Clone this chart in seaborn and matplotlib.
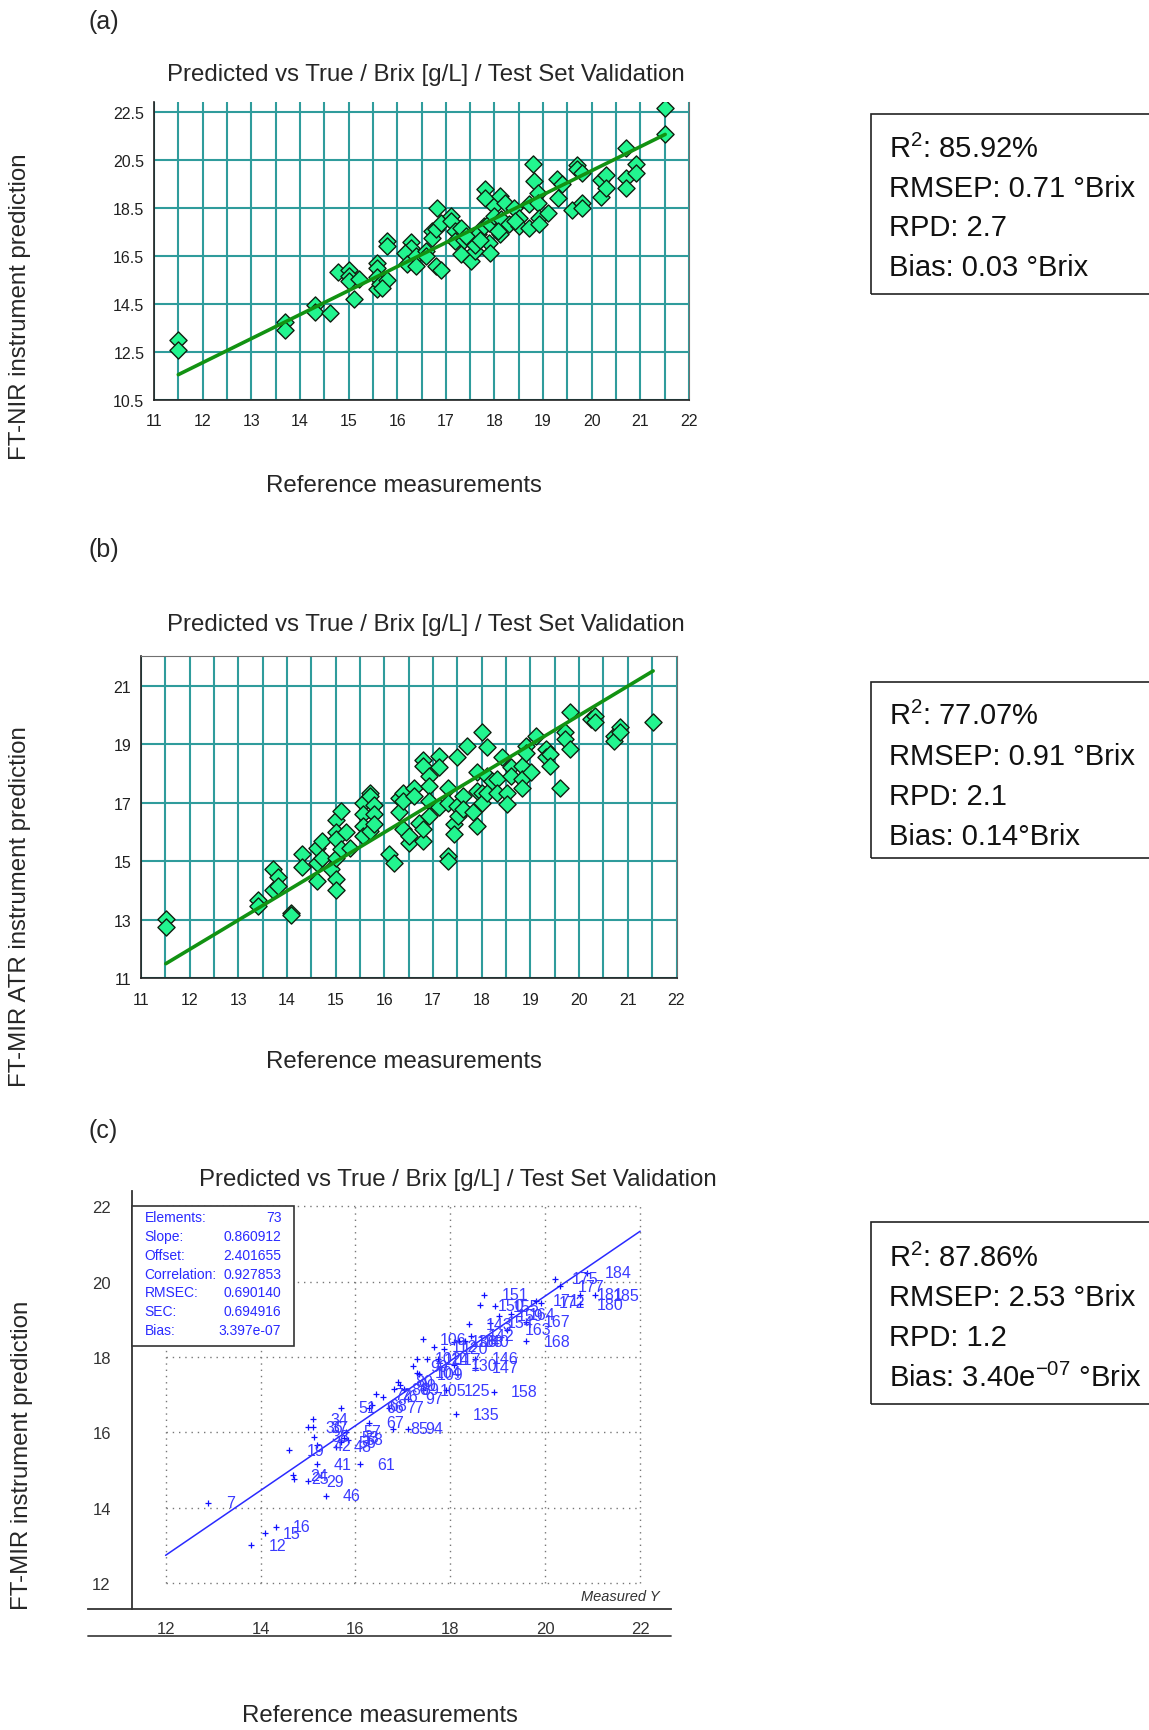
import matplotlib
matplotlib.use('Agg')
import matplotlib.pyplot as plt
import seaborn as sns
import numpy as np
from matplotlib.patches import Rectangle
from matplotlib.ticker import MultipleLocator, FixedLocator

# ---------------- data ----------------
title = 'Predicted vs True / Brix [g/L] / Test Set Validation'

# (a) FT-NIR, reference vs predicted
nir_ref = [11.5, 11.5, 13.7, 13.7, 14.3, 14.3, 14.62, 14.79, 15.01, 15.01,
           15.01, 15.21, 15.11, 15.59, 15.59, 15.59, 15.59, 15.65, 15.8, 15.8,
           15.8, 15.68, 16.29, 16.29, 16.16, 16.2, 16.38, 16.38, 16.6, 16.6,
           16.71, 16.71, 16.79, 16.81, 16.9, 16.79, 16.9, 17.1, 17.1, 17.19,
           17.19, 17.31, 17.31, 17.37, 17.5, 17.52, 17.59, 17.59, 17.67, 17.78,
           17.8, 17.8, 17.89, 17.91, 17.89, 18.0, 18.0, 18.11, 18.11, 18.14,
           18.22, 18.29, 18.4, 18.51, 18.51, 18.72, 18.72, 18.8, 18.82, 18.9,
           18.9, 18.91, 18.91, 19.1, 19.28, 19.3, 19.39, 19.6, 19.69, 19.69,
           19.8, 19.81, 19.81, 20.2, 20.2, 20.3, 20.3, 20.7, 20.7, 20.7,
           20.92, 20.92, 21.51, 21.51, 17.41, 17.7, 18.42, 18.07]
nir_pred = [12.97, 12.56, 13.72, 13.38, 14.46, 14.16, 14.11, 15.81, 15.88, 15.67,
            15.43, 15.53, 14.70, 16.20, 15.99, 15.60, 15.09, 15.30, 15.48, 17.10,
            16.89, 15.16, 17.07, 16.80, 16.59, 16.13, 16.48, 16.06, 16.69, 16.48,
            17.52, 17.24, 17.59, 18.47, 17.87, 16.06, 15.92, 18.17, 17.94, 17.52,
            17.10, 17.66, 16.58, 17.17, 17.17, 16.27, 16.69, 16.96, 17.38, 17.73,
            19.26, 18.91, 17.03, 16.59, 17.87, 18.56, 18.15, 18.98, 17.38, 18.01,
            18.70, 17.80, 18.49, 18.08, 17.73, 18.63, 17.66, 20.33, 19.61, 19.12,
            18.70, 18.08, 17.80, 18.29, 19.68, 18.91, 19.47, 18.42, 20.27, 20.09,
            19.95, 18.70, 18.49, 19.64, 18.94, 19.84, 19.33, 21.00, 19.75, 19.33,
            20.30, 19.95, 22.64, 21.58, 17.31, 17.17, 17.94, 17.52]
nir_fit = (1.0, 0.04)  # slope, offset

# (b) FT-MIR ATR
atr_ref = [11.51, 11.51, 13.41, 13.41, 13.71, 13.71, 13.81, 13.81, 14.08, 14.08,
           14.31, 14.31, 14.61, 14.61, 14.61, 14.71, 14.71, 14.91, 15.01, 15.01,
           15.01, 15.01, 15.01, 15.01, 15.10, 15.10, 15.21, 15.30, 15.57, 15.57,
           15.57, 15.57, 15.70, 15.70, 15.70, 15.79, 15.79, 15.79, 16.10, 16.20,
           16.29, 16.29, 16.39, 16.39, 16.39, 16.50, 16.50, 16.61, 16.61, 16.71,
           16.80, 16.80, 16.80, 16.80, 16.91, 16.91, 16.91, 16.91, 17.12, 17.12,
           17.12, 17.31, 17.31, 17.31, 17.31, 17.42, 17.42, 17.49, 17.49, 17.51,
           17.61, 17.61, 17.70, 17.81, 17.91, 17.91, 17.91, 18.00, 18.00, 18.01,
           18.11, 18.11, 18.11, 18.22, 18.31, 18.31, 18.41, 18.52, 18.52, 18.61,
           18.61, 18.82, 18.82, 18.82, 18.91, 18.91, 19.02, 19.12, 19.31, 19.31,
           19.41, 19.41, 19.61, 19.71, 19.71, 19.81, 19.81, 20.24, 20.32, 20.32,
           20.71, 20.71, 20.83, 20.83, 21.52]
atr_pred = [13.02, 12.75, 13.66, 13.46, 14.71, 14.00, 14.46, 14.14, 13.23, 13.14,
            15.25, 14.79, 15.46, 14.92, 14.31, 15.69, 15.11, 14.71, 16.39, 15.99,
            15.74, 15.11, 14.37, 14.01, 16.71, 15.40, 15.99, 15.46, 16.98, 16.60,
            16.20, 15.86, 17.32, 17.23, 16.03, 16.92, 16.60, 16.26, 15.23, 14.92,
            17.17, 16.66, 17.32, 17.06, 16.09, 15.63, 15.86, 17.48, 17.23, 16.31,
            18.46, 18.26, 15.69, 16.09, 17.91, 17.57, 17.06, 16.54, 18.60, 18.20,
            16.83, 17.51, 17.00, 15.17, 15.00, 16.26, 15.91, 18.54, 16.89, 16.54,
            17.23, 16.77, 18.94, 16.66, 18.03, 17.40, 16.20, 19.40, 17.34, 17.00,
            18.89, 17.91, 17.34, 17.74, 17.80, 17.34, 18.54, 17.34, 16.94, 18.20,
            17.91, 18.26, 17.80, 17.51, 18.94, 18.71, 18.03, 19.29, 18.83, 18.54,
            18.66, 18.26, 17.51, 19.40, 19.17, 20.09, 18.83, 19.86, 19.97, 19.74,
            19.29, 19.11, 19.57, 19.40, 19.74]
atr_fit = (1.0, -0.02)

# (c) FT-MIR, sample ids / measured / predicted
mir_id = [7, 12, 15, 16, 19, 24, 25, 29, 34, 36,
          37, 38, 41, 42, 46, 48, 51, 53, 56, 57,
          58, 61, 66, 67, 68, 72, 76, 77, 80, 85,
          86, 89, 90, 94, 97, 99, 102, 104, 105, 106,
          109, 112, 114, 117, 120, 125, 130, 135, 136, 138,
          140, 142, 143, 146, 147, 150, 151, 154, 155, 158,
          159, 163, 164, 167, 168, 171, 172, 175, 177, 180,
          181, 184, 185]
mir_ref = [12.90, 13.81, 14.10, 14.32, 14.61, 14.68, 14.70, 15.01, 15.10, 15.01,
           15.11, 15.13, 15.18, 15.18, 15.37, 15.59, 15.69, 15.75, 15.69, 15.81,
           15.84, 16.09, 16.29, 16.29, 16.34, 16.44, 16.58, 16.70, 16.90, 16.80,
           16.82, 17.02, 16.95, 17.10, 17.10, 17.21, 17.30, 17.30, 17.42, 17.42,
           17.34, 17.66, 17.50, 17.75, 17.87, 17.91, 18.07, 18.11, 18.07, 18.19,
           18.31, 18.43, 18.39, 18.51, 18.51, 18.63, 18.71, 18.83, 18.95, 18.91,
           19.03, 19.20, 19.28, 19.60, 19.60, 19.80, 19.92, 20.20, 20.32, 20.73,
           20.73, 20.89, 21.05]
mir_pred = [14.13, 13.00, 13.32, 13.49, 15.52, 14.86, 14.77, 14.70, 16.35, 16.14,
            16.14, 15.88, 15.15, 15.66, 14.31, 15.62, 16.65, 15.86, 15.73, 16.01,
            15.80, 15.15, 16.65, 16.26, 16.72, 17.01, 16.95, 16.65, 17.34, 16.10,
            17.14, 17.14, 17.25, 16.10, 16.89, 17.76, 17.96, 17.58, 17.12, 18.47,
            17.54, 18.27, 17.94, 17.94, 18.22, 17.12, 17.78, 16.48, 18.40, 18.42,
            18.42, 18.56, 18.87, 17.96, 17.72, 19.37, 19.66, 18.91, 19.35, 17.08,
            19.09, 18.73, 19.13, 18.94, 18.42, 19.49, 19.44, 20.08, 19.88, 19.40,
            19.66, 20.24, 19.64]
mir_slope = 0.860912
mir_offset = 2.401655
mir_stat_names = ['Elements:', 'Slope:', 'Offset:', 'Correlation:', 'RMSEC:', 'SEC:', 'Bias:']
mir_stat_values = ['73', '0.860912', '2.401655', '0.927853', '0.690140', '0.694916', '3.397e-07']

stats_a = ['R$^2$: 85.92%', 'RMSEP: 0.71 °Brix', 'RPD: 2.7', 'Bias: 0.03 °Brix']
stats_b = ['R$^2$: 77.07%', 'RMSEP: 0.91 °Brix', 'RPD: 2.1', 'Bias: 0.14°Brix']
stats_c = ['R$^2$: 87.86%', 'RMSEP: 2.53 °Brix', 'RPD: 1.2', 'Bias: 3.40e$^{-07}$ °Brix']

# ---------------- style ----------------
sns.set_style('white')
plt.rcParams['font.family'] = ['Liberation Sans', 'DejaVu Sans']
plt.rcParams['mathtext.fontset'] = 'custom'
plt.rcParams['mathtext.rm'] = 'Liberation Sans'
plt.rcParams['mathtext.it'] = 'Liberation Sans:italic'
NARROW = ['Liberation Sans Narrow', 'Liberation Sans', 'DejaVu Sans']
TEAL = '#2f9c9c'
GREEN = '#22f58f'
DKGREEN = '#129212'
BLUE = '#2a2aff'
BIG = 17.3

W, H = 1149, 1731
fig = plt.figure(figsize=(W / 100, H / 100), dpi=100)


def fx(px):
    return px / W


def fy(py):
    return 1 - py / H


def add_ax(left, top, right, bottom):
    return fig.add_axes([fx(left), fy(bottom), (right - left) / W, (bottom - top) / H])


def green_panel(ax, ref, pred, fit, ylim, yticks, top_spine):
    ax.set_xlim(11, 22)
    ax.set_ylim(*ylim)
    ax.xaxis.set_major_locator(MultipleLocator(1))
    ax.xaxis.set_minor_locator(MultipleLocator(0.5))
    ax.set_yticks(yticks)
    ax.grid(True, which='both', axis='x', color=TEAL, lw=1.5)
    ax.grid(True, which='major', axis='y', color=TEAL, lw=1.5)
    ax.set_axisbelow(True)
    sns.scatterplot(x=ref, y=pred, ax=ax, marker='D', s=76, color=GREEN,
                    edgecolor='#102010', linewidth=1.0, zorder=3)
    xs = np.array([min(ref), max(ref)])
    sns.lineplot(x=xs, y=fit[1] + fit[0] * xs, ax=ax, color=DKGREEN, lw=2.6, zorder=4)
    for s in ['left', 'bottom']:
        ax.spines[s].set_color('#202020')
        ax.spines[s].set_linewidth(1.2)
    ax.spines['right'].set_color('#707070')
    ax.spines['top'].set_visible(top_spine)
    ax.spines['top'].set_color('#707070')
    ax.tick_params(axis='both', which='both', direction='out', length=4, width=1,
                   colors='#202020', labelsize=11.5, pad=3, labelfontfamily=NARROW)
    ax.tick_params(axis='x', which='major', pad=6)
    ax.tick_params(axis='x', which='minor', length=3)
    ax.set_xlabel('')
    ax.set_ylabel('')


def stats_box(top, bottom, lines, line_y):
    fig.add_artist(Rectangle((fx(871), fy(bottom)), (1160 - 871) / W, (bottom - top) / H,
                             transform=fig.transFigure, fill=False, edgecolor='#222222', lw=1.2))
    for s, yy in zip(lines, line_y):
        fig.text(fx(889), fy(yy), s, fontsize=21, ha='left', va='center', color='#111111')


# ---------------- panel (a) ----------------
ax_a = add_ax(154, 103, 689, 400.6)
green_panel(ax_a, nir_ref, nir_pred, nir_fit, (10.5, 22.9), np.arange(10.5, 23, 2), False)
fig.text(fx(88), fy(22), '(a)', fontsize=18, ha='left', va='center')
fig.text(fx(426), fy(75), title, fontsize=BIG, ha='center', va='center')
fig.text(fx(404), fy(486), 'Reference measurements', fontsize=BIG, ha='center', va='center')
fig.text(fx(20), fy(307), 'FT-NIR instrument prediction', fontsize=BIG, rotation=90,
         ha='center', va='center')
stats_box(115, 295, stats_a, [149, 189, 228.5, 268])

# ---------------- panel (b) ----------------
ax_b = add_ax(141, 657.3, 676.5, 979)
green_panel(ax_b, atr_ref, atr_pred, atr_fit, (11, 22), np.arange(11, 22, 2), True)
fig.text(fx(88), fy(550), '(b)', fontsize=18, ha='left', va='center')
fig.text(fx(426), fy(625), title, fontsize=BIG, ha='center', va='center')
fig.text(fx(404), fy(1062), 'Reference measurements', fontsize=BIG, ha='center', va='center')
fig.text(fx(20), fy(907), 'FT-MIR ATR instrument prediction', fontsize=BIG, rotation=90,
         ha='center', va='center')
stats_box(683, 859, stats_b, [716, 757, 797, 837])

# ---------------- panel (c) ----------------
ax_c = add_ax(88, 1192, 671, 1609.5)
ax_c.set_xlim(10.365, 22.65)
ax_c.set_ylim(11.32, 22.41)
grid_ticks = np.arange(12, 23, 2)
minor_ticks = np.arange(12, 22.01, 0.5)
ax_c.set_xticks(grid_ticks)
ax_c.set_yticks(grid_ticks)
ax_c.xaxis.set_minor_locator(FixedLocator(minor_ticks))
ax_c.yaxis.set_minor_locator(FixedLocator(minor_ticks))
ax_c.spines['left'].set_position(('data', 11.3))
ax_c.spines[['top', 'right']].set_visible(False)
for s in ['left', 'bottom']:
    ax_c.spines[s].set_color('#333333')
    ax_c.spines[s].set_linewidth(1.3)
ax_c.tick_params(axis='y', which='major', direction='out', length=12.5, width=1.1,
                 colors='#333333', labelsize=12, pad=3, labelfontfamily=NARROW)
ax_c.tick_params(axis='y', which='minor', direction='out', length=4, width=1, colors='#333333')
ax_c.tick_params(axis='x', which='major', direction='out', length=7, width=1.1,
                 colors='#333333', labelsize=12, pad=2, labelfontfamily=NARROW)
ax_c.tick_params(axis='x', which='minor', direction='out', length=3.5, width=1, colors='#333333')
ax_c.vlines(grid_ticks, 12, 22, colors='#777777', linestyles=(0, (1, 3.5)), lw=1, zorder=1)
ax_c.hlines(grid_ticks, 12, 22, colors='#777777', linestyles=(0, (1, 3.5)), lw=1, zorder=1)

line_x = np.array([grid_ticks[0], grid_ticks[-1]])
sns.lineplot(x=line_x, y=mir_offset + mir_slope * line_x, ax=ax_c, color='#2a2aff', lw=1.1, zorder=3)
sns.scatterplot(x=mir_ref, y=mir_pred, ax=ax_c, marker='+', s=16, color='#1010ff',
                linewidth=0.9, zorder=4)
for sid, xv, yv in zip(mir_id, mir_ref, mir_pred):
    ax_c.annotate(str(sid), (xv, yv), xytext=(12.5, 0), textcoords='offset points',
                  ha='left', va='center', fontsize=11.5, color='#3b3bff', family=NARROW, zorder=4)
ax_c.set_xlabel('')
ax_c.set_ylabel('')

# inset statistics box
ax_c.add_patch(Rectangle((11.3, 18.29), 3.40, 3.71, facecolor='white', edgecolor='#333333',
                         lw=1.2, zorder=5))
for i, (n, v) in enumerate(zip(mir_stat_names, mir_stat_values)):
    yy = 21.71 - 0.498 * i
    ax_c.text(11.56, yy, n, fontsize=10, color=BLUE, family=NARROW, ha='left', va='center', zorder=6)
    ax_c.text(14.44, yy, v, fontsize=10, color=BLUE, family=NARROW, ha='right', va='center', zorder=6)
ax_c.text(22.42, 11.66, 'Measured Y', fontsize=10.5, style='italic', color='#333333',
          family=NARROW, ha='right', va='center')
# second rule under the x tick labels
ax_c.plot([0, 1], [-0.066, -0.066], transform=ax_c.transAxes, clip_on=False,
          color='#444444', lw=1.3)

fig.text(fx(88), fy(1131), '(c)', fontsize=18, ha='left', va='center')
fig.text(fx(458), fy(1180), title, fontsize=BIG, ha='center', va='center')
fig.text(fx(380), fy(1716), 'Reference measurements', fontsize=BIG, ha='center', va='center')
fig.text(fx(22), fy(1455), 'FT-MIR instrument prediction', fontsize=BIG, rotation=90,
         ha='center', va='center')
stats_box(1223, 1405, stats_c, [1258, 1298, 1338, 1378])

fig.savefig('out.png', dpi=100)
